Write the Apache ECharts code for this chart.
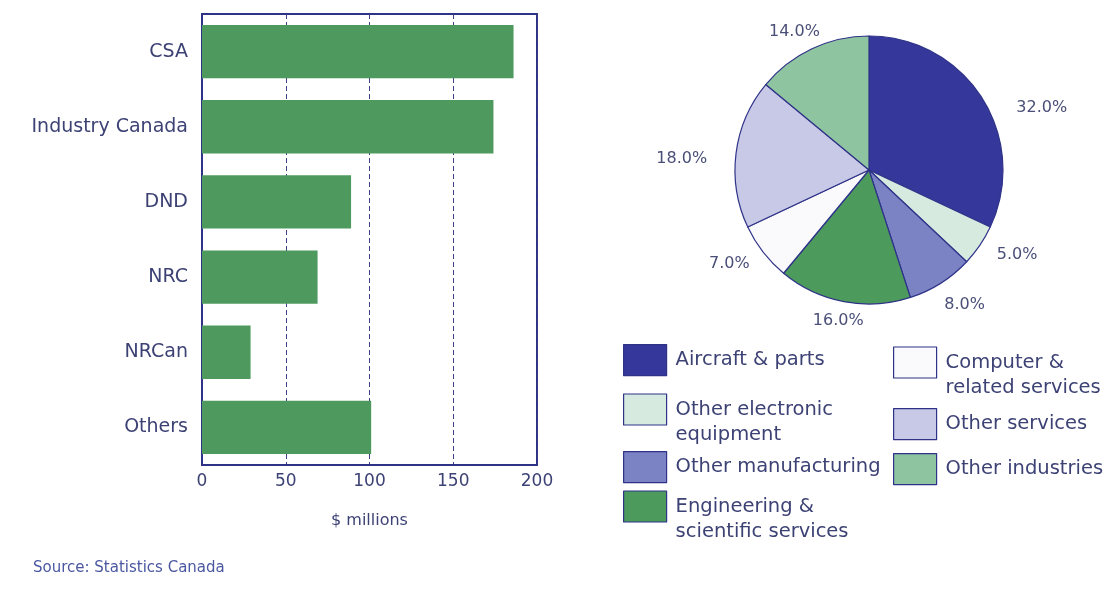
<!DOCTYPE html>
<html>
<head>
<meta charset="utf-8">
<script src="https://cdn.jsdelivr.net/npm/echarts@6/dist/echarts.min.js"></script>
<style>
html,body{margin:0;padding:0;background:#fff;}
#chart{width:1110px;height:595px;}
</style>
</head>
<body>
<div id="chart"></div>
<script>
// ---- Data ----
const barCategories = ['CSA', 'Industry Canada', 'DND', 'NRC', 'NRCan', 'Others'];
const barValues = [186, 174, 89, 69, 29, 101];
const xTicks = [0, 50, 100, 150, 200];

const pieNames = ['Aircraft & parts', 'Other electronic equipment', 'Other manufacturing',
  'Engineering & scientific services', 'Computer & related services', 'Other services', 'Other industries'];
const pieValues = [32, 5, 8, 16, 7, 18, 14];
const pieColors = ['#35389a', '#d6eadf', '#7b83c4', '#4c9a5c', '#fafafc', '#c8c9e7', '#8fc4a0'];
const legendLabels = ['Aircraft & parts', 'Other electronic\nequipment', 'Other manufacturing',
  'Engineering &\nscientific services', 'Computer &\nrelated services', 'Other services', 'Other industries'];

// ---- Styling / layout (not data) ----
const navy = '#2f3388';
const textCol = '#3d4275';
const font = 'DejaVu Sans';
const pieLabelOffsets = [[15, 16], [-2, 3], [-12, 12], [31, 7], [5, 4], [-8, 7], [22, -6]];
const legendSwatchPos = [[623, 344], [623, 394], [623, 451], [623, 491], [893, 347], [893, 408], [893, 453]];

const chart = echarts.init(document.getElementById('chart'));
const legends = pieNames.map((n, i) => {
  const multi = legendLabels[i].indexOf('\n') >= 0;
  return {
    data: [n],
    left: legendSwatchPos[i][0],
    top: legendSwatchPos[i][1] - (multi ? 22 : 0),
    padding: 0,
    orient: 'vertical',
    icon: 'rect',
    itemWidth: 43,
    itemHeight: 31,
    itemGap: 0,
    selectedMode: false,
    itemStyle: { borderColor: navy, borderWidth: 1.2 },
    // two-line labels get a blank first line so the first text line sits beside the swatch
    formatter: () => (multi ? '\n' : '') + legendLabels[i],
    textStyle: {
      fontFamily: font, fontSize: 19.5, color: textCol, lineHeight: 25,
      padding: [0, 0, 0, 4]
    }
  };
});

chart.setOption({
  animation: false,
  backgroundColor: '#ffffff',
  title: {
    text: 'Source: Statistics Canada',
    left: 28, top: 556,
    textStyle: { fontFamily: font, fontSize: 15, fontWeight: 'normal', color: '#4a57a0' }
  },
  legend: legends,
  grid: {
    left: 202, right: 573, top: 14, bottom: 130,
    show: true, borderColor: navy, borderWidth: 2, backgroundColor: 'transparent'
  },
  xAxis: {
    type: 'value', min: 0, max: 200, interval: 50,
    name: '$ millions', nameLocation: 'middle', nameGap: 48,
    nameTextStyle: { fontFamily: font, fontSize: 16, color: textCol },
    axisLine: { show: true, lineStyle: { color: navy, width: 2 } },
    axisTick: { show: false },
    axisLabel: { fontFamily: font, fontSize: 17, color: textCol, margin: 8,
      formatter: v => xTicks.includes(v) ? String(v) : '' },
    splitLine: { show: true, lineStyle: { color: '#3a4080', type: [5, 3], width: 1 } }
  },
  yAxis: {
    type: 'category', data: barCategories, inverse: true,
    axisLine: { show: true, lineStyle: { color: navy, width: 2 } },
    axisTick: { show: false },
    axisLabel: { fontFamily: font, fontSize: 19, color: textCol, margin: 14 }
  },
  series: [
    {
      type: 'bar',
      data: barValues,
      barWidth: '71%',
      itemStyle: { color: '#4e9a5e' },
      z: 3
    },
    {
      type: 'pie',
      center: [869, 170],
      radius: 134,
      startAngle: 90,
      clockwise: true,
      avoidLabelOverlap: false,
      data: pieNames.map((n, i) => ({
        name: n, value: pieValues[i],
        itemStyle: { color: pieColors[i] },
        label: { offset: pieLabelOffsets[i] }
      })),
      itemStyle: { borderColor: navy, borderWidth: 1.2 },
      label: {
        show: true, position: 'outside',
        formatter: p => p.value.toFixed(1) + '%',
        fontFamily: font, fontSize: 16, color: '#4a4f78'
      },
      labelLine: { show: false, length: 12, length2: 4 },
      emphasis: { disabled: true }
    }
  ]
});
</script>
</body>
</html>
